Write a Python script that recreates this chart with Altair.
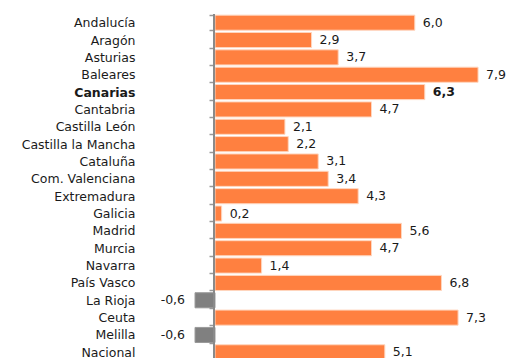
import altair as alt
import pandas as pd

regions = ["Andalucía", "Aragón", "Asturias", "Baleares", "Canarias", "Cantabria",
           "Castilla León", "Castilla la Mancha", "Cataluña", "Com. Valenciana",
           "Extremadura", "Galicia", "Madrid", "Murcia", "Navarra", "País Vasco",
           "La Rioja", "Ceuta", "Melilla", "Nacional"]
values = [6.0, 2.9, 3.7, 7.9, 6.3, 4.7, 2.1, 2.2, 3.1, 3.4,
          4.3, 0.2, 5.6, 4.7, 1.4, 6.8, -0.6, 7.3, -0.6, 5.1]
labels = ["6,0", "2,9", "3,7", "7,9", "6,3", "4,7", "2,1", "2,2", "3,1", "3,4",
          "4,3", "0,2", "5,6", "4,7", "1,4", "6,8", "-0,6", "7,3", "-0,6", "5,1"]
highlight = "Canarias"
baseline_value = [0]

df = pd.DataFrame({"region": regions, "value": values, "label": labels})
zero_df = pd.DataFrame({"zero": baseline_value})

FONT = "DejaVu Sans"
FS = 12.5
PAD_LEFT = 130
W = 498 - PAD_LEFT
STEP = 17.33
H = round(STEP * len(regions))
PX_PER_UNIT = 33.3
ZERO_PX = 77

xscale = alt.Scale(domain=[-ZERO_PX / PX_PER_UNIT, (W - ZERO_PX) / PX_PER_UNIT],
                   nice=False, zero=False)
yscale = alt.Scale(domain=regions, paddingInner=0.13, paddingOuter=0.065)

yaxis = alt.Axis(
    title=None, orient="left", offset=-(ZERO_PX - 1),
    domain=False,
    ticks=True, tickBand="extent", tickSize=5, tickColor="#999999", tickWidth=1.5,
    labelPadding=ZERO_PX - 1 - 5 + 3, labelFont=FONT, labelFontSize=FS,
    labelColor="#1a1a1a", labelLimit=0, labelAlign="right",
    labelFontWeight=alt.expr("datum.value == 'Canarias' ? 'bold' : 'normal'"),
    grid=False,
)

y_enc = alt.Y("region:N", sort=regions, scale=yscale, axis=yaxis)
x_enc = alt.X("value:Q", scale=xscale, axis=None)

base = alt.Chart(df)

bars = base.mark_bar(strokeWidth=1).encode(
    x=x_enc,
    x2=alt.datum(0),
    y=y_enc,
    color=alt.condition(alt.datum.value < 0, alt.value("#808080"), alt.value("#FF8040")),
    stroke=alt.condition(alt.datum.value < 0, alt.value("#9a9a9a"), alt.value("#FFD6BF")),
)

zero_line = alt.Chart(zero_df).mark_rule(color="#8a8a8a", strokeWidth=2, xOffset=-1).encode(
    x=alt.X("zero:Q", scale=xscale, axis=None)
)

weight = alt.expr("datum.region == 'Canarias' ? 'bold' : 'normal'")

pos_text = base.transform_filter("datum.value >= 0").mark_text(
    align="left", baseline="middle", dx=8, font=FONT, fontSize=FS,
    color="#1a1a1a", fontWeight=weight,
).encode(x=x_enc, y=y_enc, text="label:N")

neg_text = base.transform_filter("datum.value < 0").mark_text(
    align="right", baseline="middle", dx=-10, font=FONT, fontSize=FS,
    color="#1a1a1a", fontWeight=weight,
).encode(x=x_enc, y=y_enc, text="label:N")

chart = (
    alt.layer(bars, zero_line, pos_text, neg_text)
    .properties(
        width=W, height=H,
        autosize=alt.AutoSizeParams(type="none"),
        padding={"left": PAD_LEFT, "top": 6, "right": 0, "bottom": 0},
    )
    .configure_view(strokeWidth=0, stroke="transparent")
)

chart.save("out.html", embed_options={"renderer": "svg", "actions": False})
